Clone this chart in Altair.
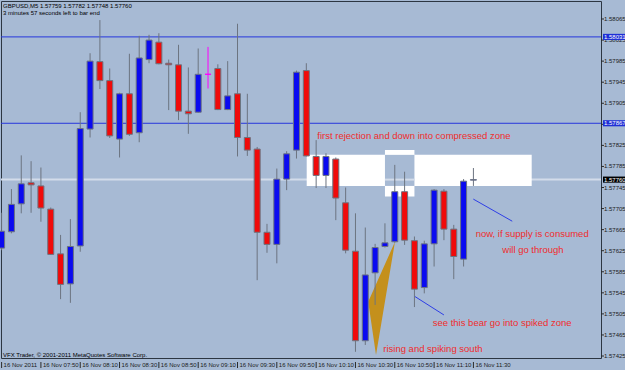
import altair as alt
import pandas as pd

BG = "#a7bad4"

# ---- candle data (GBPUSD M5, bar 0 = 07:30 ... bar 48 = 11:30) ----
opens = [1.57630, 1.57661, 1.57714, 1.57754, 1.57748, 1.57704, 1.57619, 1.57562, 1.57634, 1.57856,
         1.57984, 1.57948, 1.57837, 1.57923, 1.57849, 1.57988, 1.58021, 1.57981, 1.57978, 1.57890,
         1.57888, 1.57960, 1.57971, 1.57893, 1.57923, 1.57840, 1.57818, 1.57660, 1.57637, 1.57761,
         1.57816, 1.57967, 1.57804, 1.57768, 1.57799, 1.57716, 1.57624, 1.57454, 1.57583, 1.57633,
         1.57642, 1.57737, 1.57644, 1.57555, 1.57638, 1.57738, 1.57666, 1.57609, 1.57759]
highs = [1.57697, 1.57742, 1.57806, 1.57795, 1.57783, 1.57707, 1.57655, 1.57685, 1.57888, 1.58000,
         1.58063, 1.57971, 1.57925, 1.57999, 1.58033, 1.58035, 1.58038, 1.57988, 1.58016, 1.57973,
         1.58009, 1.58012, 1.57979, 1.57985, 1.58056, 1.57923, 1.57822, 1.57676, 1.57781, 1.57814,
         1.57967, 1.57981, 1.57835, 1.57810, 1.57802, 1.57745, 1.57696, 1.57669, 1.57638, 1.57677,
         1.57788, 1.57775, 1.57652, 1.57644, 1.57742, 1.57742, 1.57674, 1.57761, 1.57782]
lows = [1.57626, 1.57658, 1.57696, 1.57697, 1.57680, 1.57617, 1.57533, 1.57526, 1.57623, 1.57840,
        1.57932, 1.57839, 1.57802, 1.57843, 1.57831, 1.57981, 1.57979, 1.57892, 1.57873, 1.57847,
        1.57887, 1.57933, 1.57892, 1.57892, 1.57804, 1.57805, 1.57569, 1.57621, 1.57601, 1.57740,
        1.57800, 1.57804, 1.57744, 1.57744, 1.57683, 1.57620, 1.57433, 1.57446, 1.57522, 1.57631,
        1.57640, 1.57636, 1.57518, 1.57544, 1.57595, 1.57645, 1.57571, 1.57595, 1.57748]
closes = [1.57662, 1.57713, 1.57752, 1.57750, 1.57706, 1.57618, 1.57561, 1.57633, 1.57857, 1.57985,
          1.57948, 1.57843, 1.57923, 1.57846, 1.57991, 1.58025, 1.57980, 1.57978, 1.57890, 1.57885,
          1.57960, 1.57960, 1.57893, 1.57919, 1.57840, 1.57816, 1.57660, 1.57637, 1.57761, 1.57809,
          1.57964, 1.57805, 1.57768, 1.57804, 1.57725, 1.57626, 1.57454, 1.57579, 1.57631, 1.57640,
          1.57737, 1.57645, 1.57552, 1.57638, 1.57740, 1.57666, 1.57614, 1.57757, 1.57760]

# ---- axis labels ----
tick_bars = [0, 4, 8, 12, 16, 20, 24, 28, 32, 36, 40, 44, 48]
tick_labels = ["16 Nov 2011", "16 Nov 07:50", "16 Nov 08:10", "16 Nov 08:30", "16 Nov 08:50",
               "16 Nov 09:10", "16 Nov 09:30", "16 Nov 09:50", "16 Nov 10:10", "16 Nov 10:30",
               "16 Nov 10:50", "16 Nov 11:10", "16 Nov 11:30"]
price_ticks = [1.58065, 1.58025, 1.57985, 1.57945, 1.57905, 1.57865, 1.57825, 1.57785, 1.57745,
               1.57705, 1.57665, 1.57625, 1.57585, 1.57545, 1.57505, 1.57465, 1.57425]

# ---- objects on the chart ----
level_prices = [1.58031, 1.57867]
bid_price = 1.57760
zone_x = [31.04, 53.93]
zone_p = [1.57748, 1.57807]
box_x = [39.0, 42.0]
box_p = [1.57728, 1.57816]
tri_x = [37.30, 40.02, 38.09]
tri_p = [1.57528, 1.57642, 1.57427]
trend1_x = [47.99, 51.95]
trend1_p = [1.57723, 1.57681]
trend2_x = [42.05, 45.00]
trend2_p = [1.57538, 1.57503]
note_text = ["first rejection and down into compressed zone", "now, if supply is consumed",
             "will go through", "see this bear go into spiked zone", "rising and spiking south"]
note_x = [32.12, 48.23, 50.94, 43.86, 38.83]
note_p = [1.57843, 1.57656, 1.57626, 1.57487, 1.57438]

header1 = "GBPUSD,M5  1.57759 1.57782 1.57748 1.57760"
header2 = "3 minutes 57 seconds left to bar end"
footer = "VFX Trader, \u00a9 2001-2011 MetaQuotes Software Corp."

FONT = "Liberation Sans"
UP, DN, DOJI, WICK = "#0a0af0", "#f00a0a", "#ff00ff", "#6c7480"

XS = alt.Scale(domain=[-0.061, 60.98], nice=False, zero=False, padding=0)
YS = alt.Scale(domain=[1.5742125, 1.5809918], nice=False, zero=False, padding=0)


def xq(f):
    return alt.X(f, type="quantitative", scale=XS, axis=None)


def yq(f):
    return alt.Y(f, type="quantitative", scale=YS, axis=None)


rows = []
for i, (o, h, l, c) in enumerate(zip(opens, highs, lows, closes)):
    if c > o:
        fill, stroke, wick = UP, WICK, WICK
    elif c < o:
        fill, stroke, wick = DN, WICK, WICK
    else:
        fill, stroke, wick = DOJI, DOJI, DOJI
    rows.append(dict(i=i, o=o, h=h, l=l, c=c, lo=min(o, c), hi=max(o, c),
                     fill=fill, stroke=stroke, wick=wick))
cdf = pd.DataFrame(rows)

# background objects
bid = alt.Chart(pd.DataFrame({"p": [bid_price]})).mark_rule(color="#d3dcea", strokeWidth=2).encode(
    y=yq("p"), x=alt.value(0), x2=alt.value(600))
levels = alt.Chart(pd.DataFrame({"p": level_prices})).mark_rule(color="#2636dc", strokeWidth=1).encode(
    y=yq("p"), x=alt.value(0), x2=alt.value(600))
rects = pd.DataFrame({"x1": [zone_x[0], box_x[0]], "x2": [zone_x[1], box_x[1]],
                      "p1": [zone_p[0], box_p[0]], "p2": [zone_p[1], box_p[1]]})
white = alt.Chart(rects).mark_rect(fill="white").encode(
    x=xq("x1"), x2="x2", y=yq("p1"), y2="p2")
ov = pd.DataFrame({"x1": [max(zone_x[0], box_x[0])], "x2": [min(zone_x[1], box_x[1])],
                   "p1": [max(zone_p[0], box_p[0])], "p2": [min(zone_p[1], box_p[1])]})
overlap = alt.Chart(ov).mark_rect(fill=BG).encode(x=xq("x1"), x2="x2", y=yq("p1"), y2="p2")
bid2 = alt.Chart(pd.DataFrame({"x1": [ov.x1[0]], "x2": [ov.x2[0]], "p": [bid_price]})).mark_rule(
    color="#d3dcea", strokeWidth=2).encode(x=xq("x1"), x2="x2", y=yq("p"))

# triangle as area between its upper and lower edges
xl, xt, xb = tri_x
pl, pt, pb = tri_p
mid_top = pl + (xb - xl) / (xt - xl) * (pt - pl)
tri_df = pd.DataFrame({"x": [xl, xb, xt], "top": [pl, mid_top, pt], "bot": [pl, pb, pt]})
tri = alt.Chart(tri_df).mark_area(color="#c4901c", opacity=1, interpolate="linear").encode(
    x=xq("x"), y=yq("top"), y2="bot")

tl = pd.DataFrame({"x": trend1_x + trend2_x, "p": trend1_p + trend2_p, "id": [1, 1, 2, 2]})
trends = alt.Chart(tl).mark_line(color="#2e3ee6", strokeWidth=1).encode(
    x=xq("x"), y=yq("p"), detail="id:N")

wicks = alt.Chart(cdf).mark_rule(strokeWidth=1).encode(
    x=xq("i"), y=yq("l"), y2="h", color=alt.Color("wick:N", scale=None))
bodies = alt.Chart(cdf).mark_bar(size=6, strokeWidth=1).encode(
    x=xq("i"), y=yq("lo"), y2="hi",
    fill=alt.Fill("fill:N", scale=None), stroke=alt.Stroke("stroke:N", scale=None))

notes = alt.Chart(pd.DataFrame({"x": note_x, "p": note_p, "t": note_text})).mark_text(
    align="left", baseline="middle", font=FONT, fontSize=9.5, color="#f02c2c").encode(
    x=xq("x"), y=yq("p"), text="t:N")

# right price axis
pt_df = pd.DataFrame({"p": price_ticks, "lab": [f"{v:.5f}" for v in price_ticks]})
yticks = alt.Chart(pt_df).mark_rule(color="#2a2a2a", strokeWidth=1).encode(
    y=yq("p"), x=alt.value(600), x2=alt.value(603))
ylabels = alt.Chart(pt_df).mark_text(align="left", baseline="middle", font=FONT, fontSize=6,
                                     color="#1a1a1a").encode(
    x=alt.value(603), y=yq("p"), text="lab:N")

hb = 0.000058
box_df = pd.DataFrame({"p": level_prices + [bid_price],
                       "p1": [v - hb for v in level_prices + [bid_price]],
                       "p2": [v + hb for v in level_prices + [bid_price]],
                       "col": ["#1f2fd6", "#1f2fd6", "#000000"],
                       "lab": [f"{v:.5f}" for v in level_prices + [bid_price]]})
boxes = alt.Chart(box_df).mark_rect().encode(
    x=alt.value(602), x2=alt.value(625), y=yq("p1"), y2="p2", fill=alt.Fill("col:N", scale=None))
boxlab = alt.Chart(box_df).mark_text(align="left", baseline="middle", font=FONT, fontSize=6,
                                     color="white").encode(
    x=alt.value(603), y=yq("p"), text="lab:N")

# bottom time axis
tk_df = pd.DataFrame({"i": tick_bars, "lab": tick_labels})
xticks = alt.Chart(tk_df).mark_rule(color="#2a2a2a", strokeWidth=1).encode(
    x=xq("i"), y=alt.value(361), y2=alt.value(367))
xlabels = alt.Chart(tk_df).mark_text(align="left", baseline="middle", dx=2, font=FONT, fontSize=6,
                                     color="#1a1a1a").encode(
    x=xq("i"), y=alt.value(364), text="lab:N")

h1 = alt.Chart(pd.DataFrame({"t": [header1]})).mark_text(
    align="left", baseline="middle", font=FONT, fontSize=6, color="black").encode(
    x=alt.value(2), y=alt.value(5), text="t:N")
h2 = alt.Chart(pd.DataFrame({"t": [header2]})).mark_text(
    align="left", baseline="middle", font=FONT, fontSize=6, color="black").encode(
    x=alt.value(2), y=alt.value(11.8), text="t:N")
ft = alt.Chart(pd.DataFrame({"t": [footer]})).mark_text(
    align="left", baseline="middle", font=FONT, fontSize=6, color="black").encode(
    x=alt.value(2), y=alt.value(353.7), text="t:N")

chart = alt.layer(
    bid, levels, white, overlap, bid2, tri, trends, wicks, bodies, notes,
    yticks, ylabels, boxes, boxlab, xticks, xlabels, h1, h2, ft
).properties(
    width=600, height=357, background=BG,
    padding={"left": 1, "top": 1, "right": 24, "bottom": 12},
    autosize=alt.AutoSizeParams(type="none"),
).configure_view(stroke="#2c3642", strokeWidth=1, fill=BG)

chart.save("out.html", embed_options={"renderer": "svg", "actions": False})
